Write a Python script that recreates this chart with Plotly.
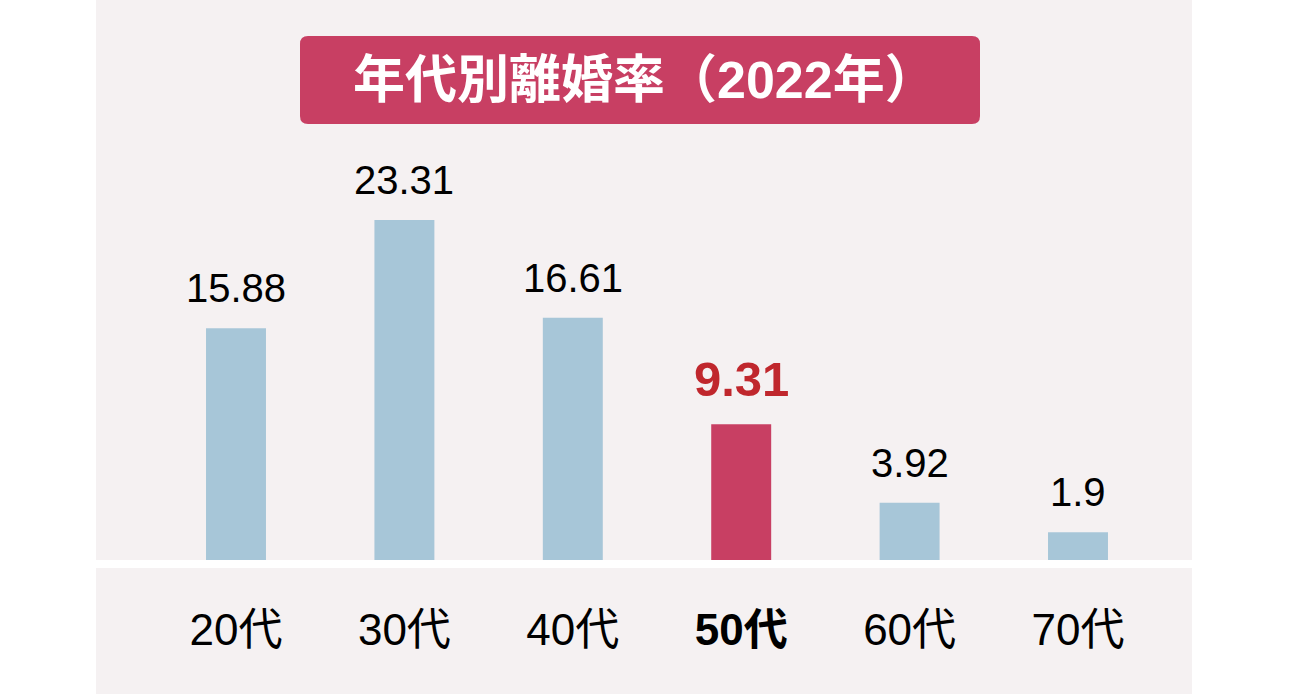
import plotly.graph_objects as go

# ---------------------------------------------------------------------------
# データ
# ---------------------------------------------------------------------------

AGES = ["20代", "30代", "40代", "50代", "60代", "70代"]
RATES = [15.88, 23.31, 16.61, 9.31, 3.92, 1.9]
RATE_LABELS = ["15.88", "23.31", "16.61", "9.31", "3.92", "1.9"]
HIGHLIGHT = "50代"
TITLE = "年代別離婚率（2022年）"

# ---------------------------------------------------------------------------
# 見た目
# ---------------------------------------------------------------------------

W, H = 1298, 694
FONT = "Liberation Sans, Noto Sans CJK JP, sans-serif"
PANEL_BG = "#f5f1f2"
BAR_BLUE = "#a7c6d8"
BAR_RED = "#c83f63"
TEXT_RED = "#c0272d"


def px_x(x):
    return x / W


def px_y(y):
    return 1 - y / H


def rounded_rect(x0, y0, x1, y1, r):
    # 角丸の四角形 (paper 座標)
    rx, ry = r / W, r / H
    X0, X1 = px_x(x0), px_x(x1)
    Y0, Y1 = px_y(y1), px_y(y0)
    return (
        f"M {X0 + rx},{Y0} L {X1 - rx},{Y0} Q {X1},{Y0} {X1},{Y0 + ry} "
        f"L {X1},{Y1 - ry} Q {X1},{Y1} {X1 - rx},{Y1} "
        f"L {X0 + rx},{Y1} Q {X0},{Y1} {X0},{Y1 - ry} "
        f"L {X0},{Y0 + ry} Q {X0},{Y0} {X0 + rx},{Y0} Z"
    )


colors = [BAR_RED if a == HIGHLIGHT else BAR_BLUE for a in AGES]

fig = go.Figure(go.Bar(
    x=AGES,
    y=RATES,
    marker=dict(color=colors, line=dict(width=0)),
    width=0.356,
    hoverinfo="skip",
))

# 数値ラベル
for age, rate, label in zip(AGES, RATES, RATE_LABELS):
    hl = age == HIGHLIGHT
    fig.add_annotation(
        x=age, y=rate, xref="x", yref="y",
        text=f"<b>{label}</b>" if hl else label,
        showarrow=False, yanchor="bottom", yshift=16,
        font=dict(family=FONT, size=49 if hl else 40,
                  color=TEXT_RED if hl else "#000000"),
    )

# タイトル
fig.add_annotation(
    x=px_x(645), y=px_y(80), xref="paper", yref="paper",
    text=f"<b>{TITLE}</b>", showarrow=False,
    xanchor="center", yanchor="middle",
    font=dict(family=FONT, size=52, color="white"),
)

fig.update_layout(
    width=W, height=H,
    margin=dict(l=0, r=0, t=0, b=0),
    paper_bgcolor="white",
    plot_bgcolor="rgba(0,0,0,0)",
    showlegend=False,
    shapes=[
        dict(type="rect", xref="paper", yref="paper", layer="below",
             x0=px_x(96), x1=px_x(1192), y0=0, y1=1,
             fillcolor=PANEL_BG, line=dict(width=0)),
        dict(type="rect", xref="paper", yref="paper", layer="below",
             x0=px_x(96), x1=px_x(1192), y0=px_y(568), y1=px_y(560),
             fillcolor="white", line=dict(width=0)),
        dict(type="path", xref="paper", yref="paper", layer="below",
             path=rounded_rect(300, 36, 980, 124, 8),
             fillcolor=BAR_RED, line=dict(width=0)),
    ],
    xaxis=dict(
        domain=[px_x(151.8), px_x(1162.2)],
        tickvals=AGES,
        ticktext=[f"<b>{a}</b>" if a == HIGHLIGHT else a for a in AGES],
        tickfont=dict(family=FONT, size=44, color="#000000"),
        ticks="", showline=False, showgrid=False, zeroline=False,
        ticklabelstandoff=40,
        fixedrange=True,
    ),
    yaxis=dict(
        domain=[px_y(560), 1],
        range=[0, 23.31 * 560 / 340],
        visible=False, showgrid=False, zeroline=False,
        fixedrange=True,
    ),
)

# ページ余白をなくしてピクセル位置を合わせる
fig.write_html(
    "out.html",
    config={"displayModeBar": False},
    post_script="document.body.style.margin='0';",
)
